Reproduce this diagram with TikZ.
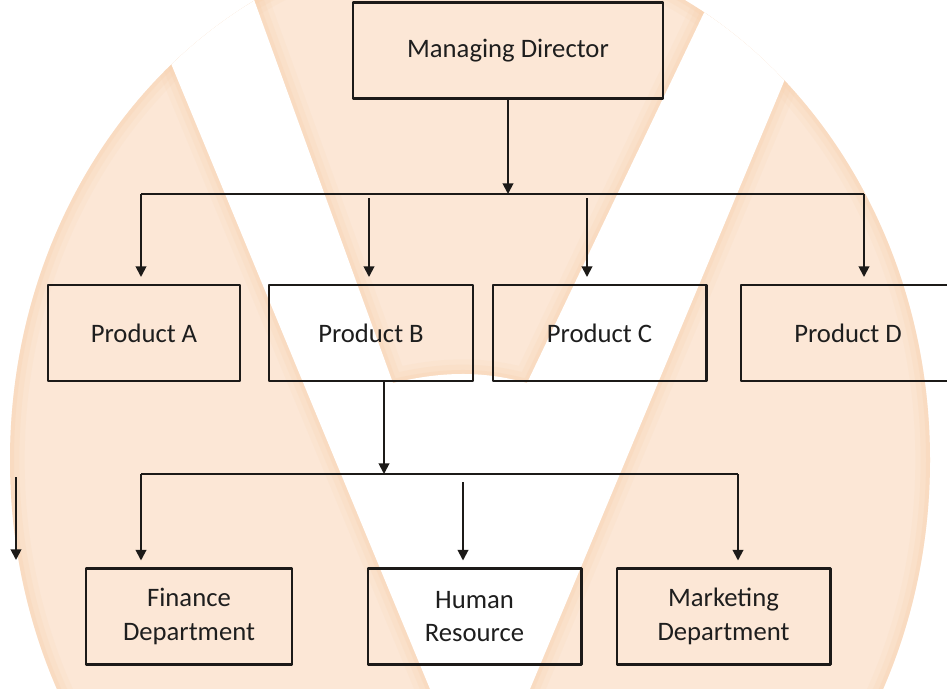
\documentclass[tikz,border=0pt]{standalone}
\usepackage{fontspec}
\setmainfont{Carlito}
\usetikzlibrary{arrows.meta}
\definecolor{peach}{RGB}{252,231,214}
\definecolor{peachedge}{RGB}{248,208,172}
\definecolor{ink}{RGB}{28,26,24}
\definecolor{txt}{RGB}{30,30,30}
\begin{document}
\begin{tikzpicture}[x=0.75pt,y=-0.75pt,line join=round,
  box/.style={draw=ink,line width=2pt,minimum height=72pt,inner sep=0pt,align=center,text=txt,font=\fontsize{20}{25}\selectfont},
  arr/.style={draw=ink,line width=1.4pt,-{Triangle[width=8pt,length=8pt]}},
  bus/.style={draw=ink,line width=1.4pt}]
	\clip (0,0) rectangle (947,689);
	% round logo behind the chart
	\begin{scope}
		\clip (470,460) ellipse [x radius=345pt, y radius=390pt];
		\fill[peach] (0,0) rectangle (947,689);
		\foreach \w/\o in {22/.12,14/.18,6/.25}{
			\draw[peachedge,line width=\w pt,opacity=\o] (470,460) ellipse [x radius=345pt, y radius=390pt];
			\draw[peachedge,line width=\w pt,opacity=\o] (124,-50) -- (430,689) (530,689) -- (839,-50)
				(734,-50) -- (527,383) .. controls (480,370) and (440,372) .. (393,383) -- (236,-50);
		}
		\fill[white] (124,-50) -- (430,689) -- (530,689) -- (839,-50) -- (734,-50) -- (527,383)
			.. controls (480,370) and (440,372) .. (393,383) -- (236,-50) -- cycle;
	\end{scope}
	% boxes
	\node[box,minimum width=232.5pt] (md) at (508,50.5) {Managing Director};
	\node[box,minimum width=144pt] (pa) at (144,333) {Product A};
	\node[box,minimum width=153pt] (pb) at (371,333) {Product B};
	\node[box,minimum width=160pt] (pc) at (599.5,333) {Product C};
	\node[box,minimum width=160.5pt] (pd) at (848,333) {Product D};
	\node[box,minimum width=154.5pt] (fd) at (189,616.5) {Finance\\Department};
	\node[box,minimum width=160pt] (hr) at (474.5,616.5) {Human\\Resource};
	\node[box,minimum width=160pt] (mk) at (723.5,616.5) {Marketing\\Department};
	% first level
	\coordinate (j1) at (508,194);
	\coordinate (b1a) at (141,194);
	\coordinate (b1d) at (864,194);
	\coordinate (b1b) at (369,198);
	\coordinate (b1c) at (587,198);
	\draw[arr] (md) -- (j1);
	\draw[bus] (b1a) -- (b1d);
	\foreach \c/\n in {b1a/pa,b1b/pb,b1c/pc,b1d/pd}
		\draw[arr,shorten >=5pt] (\c) -- (\c |- \n.north);
	% second level
	\coordinate (j2) at (384,474);
	\coordinate (b2a) at (141,474);
	\coordinate (b2c) at (738,474);
	\coordinate (b2b) at (463,482);
	\draw[arr] (j2 |- pb.south) -- (j2);
	\draw[bus] (b2a) -- (b2c);
	\foreach \c/\n in {b2a/fd,b2b/hr,b2c/mk}
		\draw[arr,shorten >=5pt] (\c) -- (\c |- \n.north);
	% loose arrow on the left
	\coordinate (s1) at (16,477);
	\coordinate (s2) at (16,560);
	\draw[arr] (s1) -- (s2);
\end{tikzpicture}
\end{document}
